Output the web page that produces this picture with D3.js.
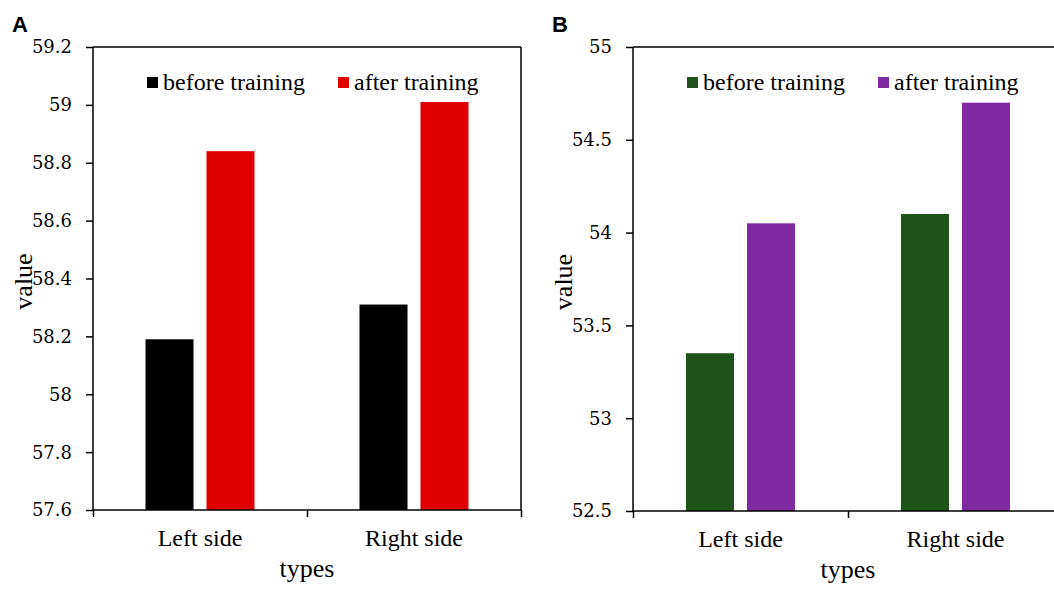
<!DOCTYPE html>
<html>
<head>
<meta charset="utf-8">
<script src="https://cdn.jsdelivr.net/npm/d3@7"></script>
<style>
  body { margin: 0; background: #fff; }
  text { font-family: "Liberation Serif", "Times New Roman", serif; fill: #000; }
</style>
</head>
<body>
<div class="chart"></div>
<script>
// Data
var categories = ["Left side", "Right side"];
var seriesNames = ["before training", "after training"];

var panelAValues = [
  [58.19, 58.84],
  [58.31, 59.01]
];
var panelATicks = [57.6, 57.8, 58, 58.2, 58.4, 58.6, 58.8, 59, 59.2];

var panelBValues = [
  [53.35, 54.05],
  [54.1, 54.7]
];
var panelBTicks = [52.5, 53, 53.5, 54, 54.5, 55];

var svgWidth = 1054;
var svgHeight = 590;

var svg = d3.select(".chart")
  .append("svg")
  .attr("width", svgWidth)
  .attr("height", svgHeight);

// draw one panel of grouped bars
function drawPanel(opts) {
  var chartWidth = opts.width;
  var chartHeight = opts.height;

  var chart = svg.append("g")
    .attr("transform", `translate(${opts.left}, ${opts.top})`);

  var xScale = d3.scaleBand()
    .domain(categories)
    .range([0, chartWidth]);

  var yScale = d3.scaleLinear()
    .domain(opts.domain)
    .range([chartHeight, 0]);

  // bars: width 48, gap 13 between the pair
  var barWidth = 48, barGap = 13;
  var groupWidth = barWidth * 2 + barGap;

  categories.forEach(function(cat, i) {
    var x0 = xScale(cat) + (xScale.bandwidth() - groupWidth) / 2;
    chart.selectAll(null)
      .data(opts.values[i])
      .enter()
      .append("rect")
      .attr("x", function(d, j) { return x0 + j * (barWidth + barGap); })
      .attr("y", function(d) { return yScale(d); })
      .attr("width", barWidth)
      .attr("height", function(d) { return chartHeight - yScale(d); })
      .attr("fill", function(d, j) { return opts.colors[j]; });
  });

  // frame (top and right)
  chart.append("line")
    .attr("x1", 0).attr("x2", chartWidth)
    .attr("y1", 0).attr("y2", 0)
    .attr("stroke", "#000").attr("stroke-width", 1.5);
  chart.append("line")
    .attr("x1", chartWidth).attr("x2", chartWidth)
    .attr("y1", 0).attr("y2", chartHeight)
    .attr("stroke", "#000").attr("stroke-width", 1.5);

  // y axis (tick marks from the axis, labels drawn separately in a serif face)
  var leftAxis = d3.axisLeft(yScale)
    .tickValues(opts.ticks)
    .tickSize(7)
    .tickFormat("");
  var yAxis = chart.append("g").call(leftAxis);
  yAxis.select(".domain").attr("stroke-width", 1.5).attr("d", `M0,${chartHeight}V0`);
  yAxis.selectAll(".tick line").attr("stroke-width", 1.5);

  // Liberation Serif has no digits here, so DejaVu Serif for numbers
  chart.append("g")
    .attr("class", "ylabels")
    .selectAll("text")
    .data(opts.ticks)
    .enter()
    .append("text")
    .attr("x", -21)
    .attr("y", function(d) { return yScale(d); })
    .attr("dy", "0.36em")
    .attr("text-anchor", "end")
    .style("font-family", "'DejaVu Serif', serif")
    .style("font-size", "18px")
    .text(d3.format("~g"));

  // x axis: ticks between categories
  var xBoundary = d3.scaleLinear().domain([0, categories.length]).range([0, chartWidth]);
  var bottomAxis = d3.axisBottom(xBoundary)
    .tickValues(d3.range(categories.length + 1))
    .tickSize(7)
    .tickFormat("");
  var xAxis = chart.append("g")
    .attr("transform", `translate(0, ${chartHeight})`)
    .call(bottomAxis);
  xAxis.select(".domain").attr("stroke-width", 1.5).attr("d", `M0,0H${chartWidth}`);
  xAxis.selectAll(".tick line").attr("stroke-width", 1.5);

  // category labels
  chart.selectAll(null)
    .data(categories)
    .enter()
    .append("text")
    .attr("x", function(d) { return xScale(d) + xScale.bandwidth() / 2; })
    .attr("y", chartHeight + 36)
    .attr("text-anchor", "middle")
    .style("font-size", "24px")
    .text(function(d) { return d; });

  // x-axis label
  chart.append("text")
    .attr("x", chartWidth / 2)
    .attr("y", chartHeight + 67)
    .attr("text-anchor", "middle")
    .style("font-size", "26px")
    .text("types");

  // y-axis label
  chart.append("text")
    .attr("transform", "rotate(-90)")
    .attr("x", -chartHeight / 2 - 3)
    .attr("y", opts.yLabelX)
    .attr("text-anchor", "middle")
    .style("font-size", "26px")
    .text("value");

  // legend
  var legendX = [54, 245];
  seriesNames.forEach(function(name, j) {
    chart.append("rect")
      .attr("x", legendX[j])
      .attr("y", 30)
      .attr("width", 11)
      .attr("height", 11)
      .attr("fill", opts.colors[j]);
    chart.append("text")
      .attr("x", legendX[j] + 16)
      .attr("y", 43)
      .style("font-size", "24px")
      .text(name);
  });

  // panel letter
  svg.append("text")
    .attr("x", opts.left - 81)
    .attr("y", 32)
    .style("font-family", "'Liberation Sans', Arial, sans-serif")
    .style("font-weight", "bold")
    .style("font-size", "22px")
    .text(opts.letter);
}

drawPanel({
  letter: "A",
  left: 93, top: 47, width: 428, height: 463,
  domain: [57.6, 59.2],
  ticks: panelATicks,
  values: panelAValues,
  colors: ["#000000", "#e00000"],
  yLabelX: -61
});

drawPanel({
  letter: "B",
  left: 633, top: 47, width: 430, height: 464,
  domain: [52.5, 55],
  ticks: panelBTicks,
  values: panelBValues,
  colors: ["#1e5319", "#7f2aa0"],
  yLabelX: -61
});
</script>
</body>
</html>
